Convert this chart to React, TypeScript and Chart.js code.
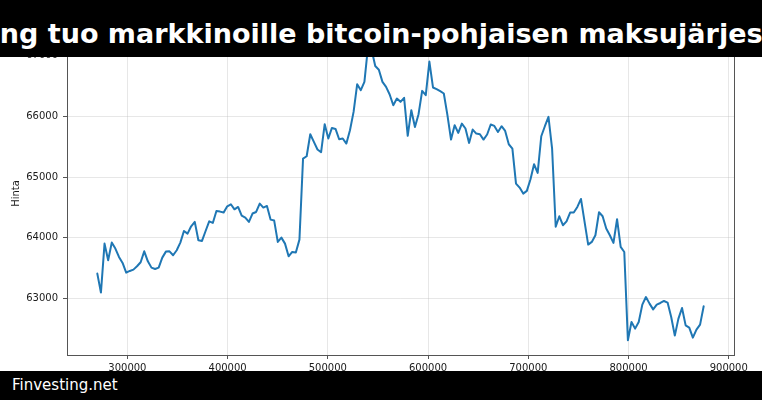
import React, { useEffect, useRef } from "react";
import { Chart, registerables } from "chart.js";

Chart.register(...registerables);

const TITLE = "Lightning tuo markkinoille bitcoin-pohjaisen maksujärjestelmän";
const SOURCE = "Finvesting.net";
const Y_LABEL = "Hinta";

const X_FIRST = 270000;
const X_LAST = 875000;

const PRICES = [
  63408, 63094, 63902, 63627, 63919, 63820, 63682, 63583, 63424, 63451,
  63473, 63528, 63594, 63775, 63610, 63506, 63484, 63506, 63671, 63770,
  63775, 63710, 63792, 63919, 64110, 64067, 64188, 64260, 63957, 63946,
  64110, 64270, 64243, 64440, 64430, 64414, 64518, 64551, 64468, 64507,
  64364, 64331, 64260, 64398, 64424, 64562, 64496, 64523, 64298, 64282,
  63930, 64001, 63902, 63693, 63764, 63754, 63968, 65305, 65343, 65706,
  65579, 65454, 65409, 65871, 65635, 65810, 65793, 65623, 65635, 65552,
  65772, 66074, 66531, 66432, 66569, 67150, 67100, 66830, 66770, 66569,
  66486, 66361, 66184, 66295, 66240, 66306, 65680, 66102, 65826, 66036,
  66421, 66350, 66905, 66477, 66449, 66416, 66378, 66020, 65618, 65855,
  65728, 65882, 65800, 65563, 65783, 65717, 65706, 65618, 65701, 65866,
  65843, 65744, 65838, 65760, 65541, 65470, 64892, 64826, 64727, 64771,
  64959, 65211, 65068, 65673, 65838, 65992, 65470, 64180, 64353, 64205,
  64270, 64414, 64414, 64507, 64639, 64260, 63886, 63930, 64040, 64419,
  64353, 64150, 64040, 63913, 64304, 63847, 63764, 62307, 62610, 62500,
  62610, 62896, 63021, 62912, 62818, 62896, 62923, 62956, 62929, 62692,
  62385, 62665, 62840, 62554, 62516, 62351, 62483, 62566, 62868,
];

const X_TICKS = [300000, 400000, 500000, 600000, 700000, 800000, 900000];
const Y_TICKS = [63000, 64000, 65000, 66000, 67000];

const X_MIN = 239750;
const X_MAX = 905250;
const Y_MIN = 62065;
const Y_MAX = 67392;

const FONT = "DejaVu Sans";
const GRID = "rgba(176,176,176,0.3)";
const TEXT = "#1a1a1a";
const AXIS = "#555";

export default function App() {
  const ref = useRef<HTMLCanvasElement>(null);

  useEffect(() => {
    document.body.style.margin = "0";
    const n = PRICES.length;
    const data = PRICES.map((y, i) => ({
      x: X_FIRST + (i * (X_LAST - X_FIRST)) / (n - 1),
      y,
    }));

    const framePlugin = {
      id: "frame",
      afterDatasetsDraw(chart: any) {
        const { ctx, chartArea: a } = chart;
        ctx.save();
        ctx.strokeStyle = AXIS;
        ctx.lineWidth = 1;
        ctx.strokeRect(
          Math.round(a.left) + 0.5,
          Math.round(a.top) + 0.5,
          Math.round(a.right - a.left),
          Math.round(a.bottom - a.top)
        );
        ctx.restore();
      },
    };

    const chart = new Chart(ref.current as HTMLCanvasElement, {
      type: "line",
      data: {
        datasets: [
          {
            data,
            borderColor: "#1f77b4",
            borderWidth: 2,
            pointRadius: 0,
            tension: 0,
            fill: false,
            borderJoinStyle: "round",
            borderCapStyle: "round",
          },
        ],
      },
      options: {
        responsive: false,
        animation: false,
        devicePixelRatio: 1,
        layout: { padding: { top: 32, right: 28, bottom: 0, left: 0 } },
        plugins: {
          legend: { display: false },
          tooltip: { enabled: false },
        },
        scales: {
          x: {
            type: "linear",
            min: X_MIN,
            max: X_MAX,
            afterBuildTicks: (s: any) => {
              s.ticks = X_TICKS.map((v) => ({ value: v }));
            },
            afterFit: (s: any) => {
              s.height = 45;
            },
            grid: { color: GRID, tickColor: AXIS, tickLength: 4 },
            border: { display: false },
            ticks: {
              color: TEXT,
              font: { family: FONT, size: 10 },
              padding: 3,
              maxRotation: 0,
              autoSkip: false,
              callback: (v: any) => String(v),
            },
          },
          y: {
            type: "linear",
            min: Y_MIN,
            max: Y_MAX,
            afterBuildTicks: (s: any) => {
              s.ticks = Y_TICKS.map((v) => ({ value: v }));
            },
            afterFit: (s: any) => {
              s.width = 67;
            },
            grid: { color: GRID, tickColor: AXIS, tickLength: 4 },
            border: { display: false },
            ticks: {
              color: TEXT,
              font: { family: FONT, size: 10 },
              padding: 5,
              autoSkip: false,
              callback: (v: any) => String(v),
            },
            title: {
              display: true,
              text: Y_LABEL,
              color: TEXT,
              font: { family: FONT, size: 10 },
              padding: { top: 10, bottom: 0 },
            },
          },
        },
      },
      plugins: [framePlugin],
    });
    return () => chart.destroy();
  }, []);

  return (
    <div
      style={{
        position: "fixed",
        left: 0,
        top: 0,
        width: 762,
        height: 400,
        background: "#fff",
        overflow: "hidden",
      }}
    >
      <canvas
        ref={ref}
        width={762}
        height={400}
        style={{ position: "absolute", left: 0, top: 0, display: "block" }}
      />
      <div
        style={{
          position: "absolute",
          left: 0,
          top: 0,
          width: 762,
          height: 57,
          background: "#000",
          overflow: "hidden",
        }}
      >
        <div
          style={{
            position: "absolute",
            left: 381,
            top: 20,
            transform: "translateX(-50%)",
            whiteSpace: "nowrap",
            color: "#fff",
            fontFamily: FONT,
            fontWeight: "bold",
            fontSize: 27,
            lineHeight: 1,
          }}
        >
          {TITLE}
        </div>
      </div>
      <div
        style={{
          position: "absolute",
          left: 0,
          top: 371,
          width: 762,
          height: 29,
          background: "#000",
          overflow: "hidden",
        }}
      >
        <div
          style={{
            position: "absolute",
            left: 12,
            top: 7,
            whiteSpace: "nowrap",
            color: "#fff",
            fontFamily: FONT,
            fontSize: 15,
            lineHeight: 1,
          }}
        >
          {SOURCE}
        </div>
      </div>
    </div>
  );
}
